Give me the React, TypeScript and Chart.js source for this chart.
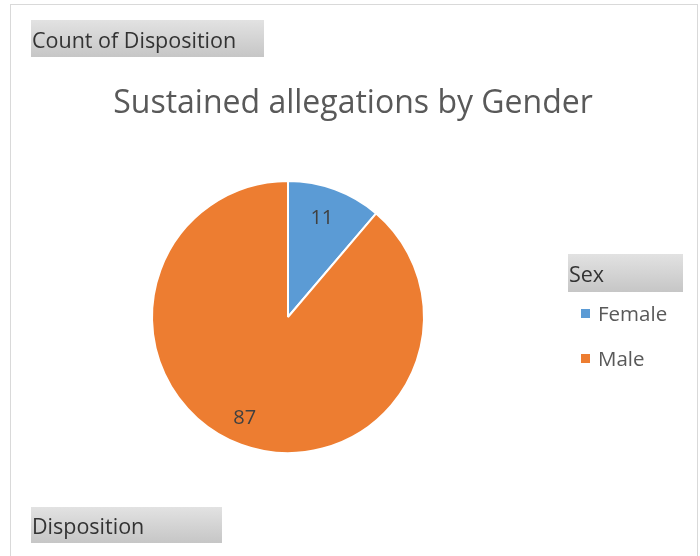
import React, { useEffect, useRef } from "react";
import { Chart, registerables } from "chart.js";

Chart.register(...registerables);

const categories = ["Female", "Male"];
const counts = [11, 87];
const sliceColors = ["#5B9BD5", "#ED7D31"];
const chartTitle = "Sustained allegations by Gender";
const valueButtonText = "Count of Disposition";
const legendButtonText = "Sex";
const filterButtonText = "Disposition";

const FONT = "'Open Sans', 'Noto Sans', sans-serif";

function drawButton(ctx: CanvasRenderingContext2D, x: number, y: number, w: number, h: number, text: string, fs: number) {
  const g = ctx.createLinearGradient(0, y, 0, y + h);
  g.addColorStop(0, "#e2e2e2");
  g.addColorStop(1, "#c6c6c6");
  ctx.fillStyle = g;
  ctx.fillRect(x, y, w, h);
  ctx.fillStyle = "#333333";
  ctx.font = `${fs}px ${FONT}`;
  ctx.textAlign = "left";
  ctx.textBaseline = "middle";
  ctx.fillText(text, x + 1, y + h / 2 + 3);
}

const decorPlugin = {
  id: "decor",
  beforeDraw(chart: any) {
    const ctx = chart.ctx as CanvasRenderingContext2D;
    ctx.save();
    ctx.fillStyle = "#ffffff";
    ctx.fillRect(0, 0, chart.width, chart.height);
    ctx.strokeStyle = "#d9d9d9";
    ctx.lineWidth = 1;
    ctx.strokeRect(10.5, 4.5, 687, 600);
    ctx.restore();
  },
  afterDraw(chart: any, _args: any, opts: any) {
    const ctx = chart.ctx as CanvasRenderingContext2D;
    ctx.save();
    // title
    ctx.fillStyle = "#595959";
    ctx.font = `32px ${FONT}`;
    ctx.textAlign = "center";
    ctx.textBaseline = "middle";
    ctx.fillText(chartTitle, 353, 104);

    // buttons
    drawButton(ctx, 31, 20, 233, 37, valueButtonText, 21.5);
    drawButton(ctx, 31, 507, 191, 36, filterButtonText, 21.5);
    drawButton(ctx, 568, 254, 115, 38, legendButtonText, 21.5);

    // legend
    const labels: string[] = chart.data.labels;
    const colors: string[] = chart.data.datasets[0].backgroundColor;
    ctx.font = `20.5px ${FONT}`;
    ctx.textAlign = "left";
    ctx.textBaseline = "middle";
    labels.forEach((lab, i) => {
      const cy = 313.5 + i * 45;
      ctx.fillStyle = colors[i];
      ctx.fillRect(581, cy - 4.5, 9, 9);
      ctx.fillStyle = "#595959";
      ctx.fillText(lab, 598, cy + 2);
    });

    // data labels
    const meta = chart.getDatasetMeta(0);
    const data: number[] = chart.data.datasets[0].data;
    ctx.fillStyle = "#404040";
    ctx.font = `20px ${FONT}`;
    ctx.textAlign = "center";
    meta.data.forEach((arc: any, i: number) => {
      const p = arc.getProps(["x", "y", "startAngle", "endAngle", "outerRadius"], true);
      const pl = opts.placement[i];
      const a = p.startAngle + (p.endAngle - p.startAngle) * pl.frac;
      const r = p.outerRadius * pl.r;
      ctx.fillText(String(data[i]), p.x + Math.cos(a) * r, p.y + Math.sin(a) * r + 1.5);
    });
    ctx.restore();
  },
};

export default function App() {
  const ref = useRef<HTMLCanvasElement | null>(null);
  useEffect(() => {
    document.body.style.margin = "0";
    const chart = new Chart(ref.current as HTMLCanvasElement, {
      type: "pie",
      data: {
        labels: categories,
        datasets: [
          {
            data: counts,
            backgroundColor: sliceColors,
            borderColor: "#ffffff",
            borderWidth: 2,
          },
        ],
      },
      options: {
        animation: false,
        responsive: false,
        devicePixelRatio: 1,
        layout: { padding: { left: 151, right: 275, top: 180, bottom: 102 } },
        plugins: {
          legend: { display: false },
          tooltip: { enabled: false },
          title: { display: false },
          decor: { placement: [{ frac: 0.46, r: 0.78 }, { frac: 0.51, r: 0.8 }] },
        } as any,
      },
      plugins: [decorPlugin],
    });
    return () => chart.destroy();
  }, []);
  return (
    <div style={{ position: "fixed", left: 0, top: 0, width: 700, height: 556 }}>
      <canvas ref={ref} width={700} height={556} style={{ width: 700, height: 556 }} />
    </div>
  );
}
